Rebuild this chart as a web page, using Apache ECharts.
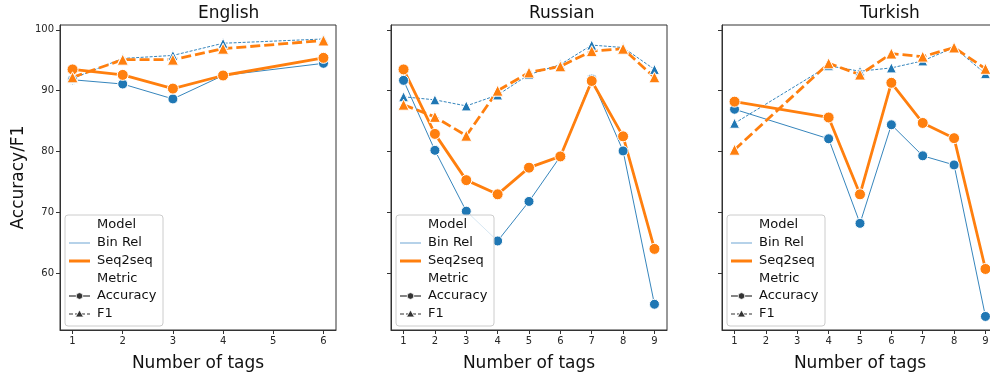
<!DOCTYPE html>
<html><head><meta charset="utf-8">
<script src="https://cdn.jsdelivr.net/npm/echarts@6/dist/echarts.min.js"></script>
<style>html,body{margin:0;padding:0;background:#fff}#c{width:990px;height:376px}</style>
</head><body><div id="c"></div>
<script>
// ---- data ----
const panelTitles = ['English', 'Russian', 'Turkish'];
const yTicks = [60, 70, 80, 90, 100];

const enX = [1, 2, 3, 4, 6];
const enBinAcc = [91.8, 91.1, 88.65, 92.5, 94.5];
const enBinF1 = [92.0, 95.3, 95.8, 97.8, 98.5];
const enSeqAcc = [93.5, 92.6, 90.35, 92.5, 95.4];
const enSeqF1 = [92.2, 95.1, 95.1, 96.9, 98.25];

const ruX = [1, 2, 3, 4, 5, 6, 7, 8, 9];
const ruBinAcc = [91.7, 80.2, 70.2, 65.3, 71.8, 79.2, 91.9, 80.1, 54.9];
const ruBinF1 = [89.0, 88.5, 87.5, 89.3, 92.65, 94.3, 97.5, 97.1, 93.5];
const ruSeqAcc = [93.5, 82.9, 75.3, 72.97, 77.35, 79.2, 91.6, 82.5, 64.0];
const ruSeqF1 = [87.7, 85.7, 82.6, 90.0, 93.0, 94.0, 96.5, 96.9, 92.2];

const trX = [1, 4, 5, 6, 7, 8, 9];
const trBinAcc = [86.95, 82.1, 68.2, 84.4, 79.3, 77.8, 52.9];
const trBinF1 = [84.65, 94.1, 93.2, 93.75, 94.9, 97.1, 92.8];
const trSeqAcc = [88.2, 85.6, 72.97, 91.3, 84.7, 82.2, 60.7];
const trSeqF1 = [80.3, 94.5, 92.65, 96.1, 95.6, 97.1, 93.6];

const panels = [
  {x: enX, binAcc: enBinAcc, binF1: enBinF1, seqAcc: enSeqAcc, seqF1: enSeqF1, xTicks: [1,2,3,4,5,6]},
  {x: ruX, binAcc: ruBinAcc, binF1: ruBinF1, seqAcc: ruSeqAcc, seqF1: ruSeqF1, xTicks: [1,2,3,4,5,6,7,8,9]},
  {x: trX, binAcc: trBinAcc, binF1: trBinF1, seqAcc: trSeqAcc, seqF1: trSeqF1, xTicks: [1,2,3,4,5,6,7,8,9]}
];

// ---- layout ----
const BLUE = '#1f77b4', ORANGE = '#ff7f0e';
const FONT = 'DejaVu Sans';
const lefts = [60, 391, 722];
const W = 276, TOP = 25, H = 305;
const yMin = 50.67, yMax = 100.8;

const chart = echarts.init(document.getElementById('c'));
const grids = [], xAxes = [], yAxes = [], series = [], graphics = [];

function pairs(xs, ys) { return xs.map((x, i) => [x, ys[i]]); }

panels.forEach((p, i) => {
  const L = lefts[i];
  grids.push({left: L, top: TOP, width: W, height: H, show: true, borderColor: '#333', borderWidth: 1, backgroundColor: 'transparent', containLabel: false, outerBoundsMode: 'none'});
  const n = p.xTicks[p.xTicks.length - 1] - p.xTicks[0];
  const pad = n * 0.05;
  xAxes.push({
    type: 'value', gridIndex: i, min: p.xTicks[0] - pad, max: p.xTicks[p.xTicks.length - 1] + pad,
    axisLine: {show: true, lineStyle: {color: '#333', width: 1}},
    axisTick: {show: true, length: 4, customValues: p.xTicks, lineStyle: {color: '#333'}},
    axisLabel: {customValues: p.xTicks, fontFamily: FONT, fontSize: 10, color: '#262626', margin: 6},
    splitLine: {show: false},
    name: 'Number of tags', nameLocation: 'middle', nameGap: 25,
    nameTextStyle: {fontFamily: FONT, fontSize: 17, color: '#111'}
  });
  yAxes.push({
    type: 'value', gridIndex: i, min: yMin, max: yMax,
    axisLine: {show: true, lineStyle: {color: '#333', width: 1}},
    axisTick: {show: true, length: 4, customValues: yTicks, lineStyle: {color: '#333'}},
    axisLabel: {show: i === 0, customValues: yTicks, fontFamily: FONT, fontSize: 10, color: '#262626', margin: 6},
    splitLine: {show: false},
    name: i === 0 ? 'Accuracy/F1' : '', nameLocation: 'middle', nameGap: 33,
    nameTextStyle: {fontFamily: FONT, fontSize: 17, color: '#111'}
  });
  const base = {type: 'line', xAxisIndex: i, yAxisIndex: i, animation: false, silent: true, z: 3};
  series.push(Object.assign({}, base, {
    name: 'Bin Rel Accuracy', data: pairs(p.x, p.binAcc), symbol: 'circle', symbolSize: 10,
    lineStyle: {color: BLUE, width: 0.9}, itemStyle: {color: BLUE, borderColor: '#fff', borderWidth: 1}
  }));
  series.push(Object.assign({}, base, {
    name: 'Bin Rel F1', data: pairs(p.x, p.binF1), symbol: 'triangle', symbolSize: 10,
    lineStyle: {color: BLUE, width: 0.9, type: [3, 1.5]}, itemStyle: {color: BLUE, borderColor: '#fff', borderWidth: 1}
  }));
  series.push(Object.assign({}, base, {
    name: 'Seq2seq Accuracy', data: pairs(p.x, p.seqAcc), symbol: 'circle', symbolSize: 11,
    lineStyle: {color: ORANGE, width: 2.8}, itemStyle: {color: ORANGE, borderColor: '#fff', borderWidth: 1}
  }));
  series.push(Object.assign({}, base, {
    name: 'Seq2seq F1', data: pairs(p.x, p.seqF1), symbol: 'triangle', symbolSize: 11,
    lineStyle: {color: ORANGE, width: 2.8, type: [10, 4]}, itemStyle: {color: ORANGE, borderColor: '#fff', borderWidth: 1}
  }));

  // title
  graphics.push({type: 'text', left: L + W / 2, top: 5, style: {text: panelTitles[i], font: '17px "' + FONT + '"', fill: '#111', textAlign: 'center'}, z: 10});
  // legend box
  const bx = L + 5, by = 215;
  const lg = [];
  lg.push({type: 'rect', shape: {x: bx, y: by, width: 98, height: 111, r: 3}, style: {fill: 'rgba(255,255,255,0.8)', stroke: '#cccccc', lineWidth: 1}});
  const rows = ['Model', 'Bin Rel', 'Seq2seq', 'Metric', 'Accuracy', 'F1'];
  const ys = [225, 243, 261, 278.5, 296, 314];
  rows.forEach((t, k) => {
    lg.push({type: 'text', style: {x: L + 37, y: ys[k], text: t, font: '13px "' + FONT + '"', fill: '#111', textVerticalAlign: 'middle'}});
  });
  lg.push({type: 'line', shape: {x1: L + 9, y1: ys[1], x2: L + 30, y2: ys[1]}, style: {stroke: '#9ec3e2', lineWidth: 1.5}});
  lg.push({type: 'line', shape: {x1: L + 9, y1: ys[2], x2: L + 30, y2: ys[2]}, style: {stroke: ORANGE, lineWidth: 3}});
  lg.push({type: 'line', shape: {x1: L + 9, y1: ys[4], x2: L + 30, y2: ys[4]}, style: {stroke: '#333', lineWidth: 1.2}});
  lg.push({type: 'circle', shape: {cx: L + 19.5, cy: ys[4], r: 3.3}, style: {fill: '#333', stroke: '#fff', lineWidth: 0.8}});
  lg.push({type: 'line', shape: {x1: L + 9, y1: ys[5], x2: L + 30, y2: ys[5]}, style: {stroke: '#333', lineWidth: 1.2, lineDash: [4, 2]}});
  lg.push({type: 'polygon', shape: {points: [[L + 19.5, ys[5] - 4], [L + 23.5, ys[5] + 3], [L + 15.5, ys[5] + 3]]}, style: {fill: '#333', stroke: '#fff', lineWidth: 0.8}});
  lg.forEach(e => { e.z = 20; e.silent = true; graphics.push(e); });
});

chart.setOption({
  animation: false,
  backgroundColor: '#fff',
  grid: grids, xAxis: xAxes, yAxis: yAxes, series: series,
  graphic: {elements: graphics}
});
</script></body></html>
